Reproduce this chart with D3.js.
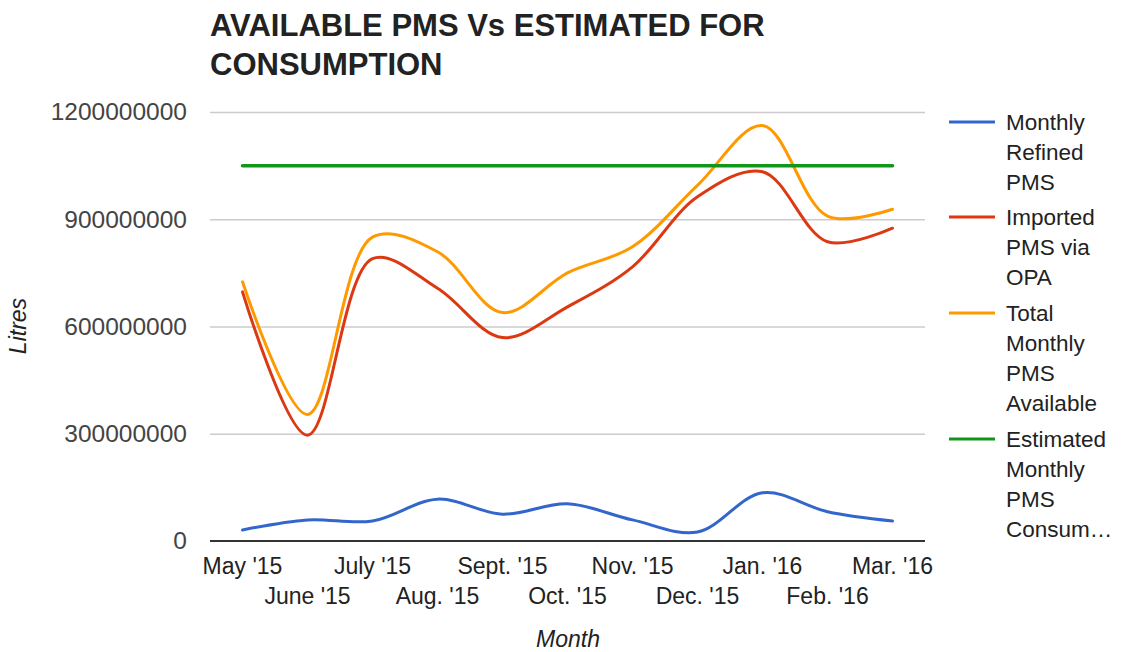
<!DOCTYPE html>
<html>
<head>
<meta charset="utf-8">
<script src="https://cdn.jsdelivr.net/npm/d3@7"></script>
<style>
  html, body { margin: 0; padding: 0; background: #fff; }
  svg { display: block; font-family: "Liberation Sans", Arial, sans-serif; }
</style>
</head>
<body>
<div id="chart"></div>
<script>
// data (litres)
var months = ["May '15", "June '15", "July '15", "Aug. '15", "Sept. '15", "Oct. '15",
              "Nov. '15", "Dec. '15", "Jan. '16", "Feb. '16", "Mar. '16"];
var refined   = [31000000, 59000000, 56000000, 117000000, 75000000, 104000000,
                 59000000, 25000000, 135000000, 82000000, 56000000];
var imported  = [697000000, 296000000, 790000000, 707000000, 569000000, 655000000,
                 767000000, 963000000, 1033000000, 837000000, 875000000];
var total     = [725000000, 354000000, 850000000, 809000000, 639000000, 750000000,
                 823000000, 995000000, 1162000000, 909000000, 928000000];
var estimated = [1050000000, 1050000000, 1050000000, 1050000000, 1050000000, 1050000000,
                 1050000000, 1050000000, 1050000000, 1050000000, 1050000000];
var yTicks = [0, 300000000, 600000000, 900000000, 1200000000];
var seriesNames = [
  ["Monthly", "Refined", "PMS"],
  ["Imported", "PMS via", "OPA"],
  ["Total", "Monthly", "PMS", "Available"],
  ["Estimated", "Monthly", "PMS", "Consum\u2026"]
];
var colors = ["#3366cc", "#dc3912", "#ff9900", "#109618"];

var W = 1122, H = 652;
var svg = d3.select("#chart").append("svg").attr("width", W).attr("height", H);

var x = d3.scaleBand().domain(months).range([210, 925]);
var y = d3.scaleLinear().domain([0, 1200000000]).range([541, 112]);
function px(i) { return x(months[i]) + x.bandwidth() / 2; }

// title
svg.append("text").attr("x", 210).attr("y", 36)
  .attr("font-size", 31).attr("font-weight", "bold").attr("fill", "#222")
  .text("AVAILABLE PMS Vs ESTIMATED FOR");
svg.append("text").attr("x", 210).attr("y", 75)
  .attr("font-size", 31).attr("font-weight", "bold").attr("fill", "#222")
  .text("CONSUMPTION");

// gridlines
var grid = svg.append("g").attr("transform", "translate(210,0)")
  .call(d3.axisLeft(y).tickValues(yTicks.slice(1)).tickSize(-715).tickFormat(""));
grid.select(".domain").remove();
grid.selectAll("line").attr("stroke", "#cccccc").attr("stroke-width", 1.5);

// y labels
var yAx = svg.append("g").attr("transform", "translate(210,0)")
  .call(d3.axisLeft(y).tickValues(yTicks).tickSize(0).tickPadding(23).tickFormat(d3.format("d")));
yAx.select(".domain").remove();
yAx.selectAll("text").attr("font-size", 24.5).attr("fill", "#444")
  .attr("font-family", "Liberation Sans, Arial, sans-serif");

// x labels, staggered
var xAx = svg.append("g").attr("transform", "translate(0,541)")
  .call(d3.axisBottom(x).tickSize(0).tickPadding(17));
xAx.select(".domain").remove();
xAx.selectAll("text").attr("font-size", 23).attr("fill", "#222")
  .attr("font-family", "Liberation Sans, Arial, sans-serif")
  .attr("y", function(d, i) { return i % 2 ? 47 : 17; });

// baseline
svg.append("line").attr("x1", 210).attr("x2", 925).attr("y1", y(0)).attr("y2", y(0))
  .attr("stroke", "#333").attr("stroke-width", 2);

// lines
var line = d3.line()
  .x(function(d, i) { return px(i); })
  .y(function(d) { return y(d); })
  .curve(d3.curveCatmullRom.alpha(0.5));

[refined, imported, total, estimated].forEach(function(s, k) {
  svg.append("path").datum(s)
    .attr("d", line)
    .attr("fill", "none")
    .attr("stroke", colors[k])
    .attr("stroke-width", k === 3 ? 3.5 : 3)
    .attr("stroke-linejoin", "round")
    .attr("stroke-linecap", "round");
});

// axis titles
svg.append("text").attr("transform", "translate(26,326) rotate(-90)")
  .attr("text-anchor", "middle").attr("font-size", 23).attr("font-style", "italic")
  .attr("fill", "#222").text("Litres");
svg.append("text").attr("x", 568).attr("y", 647)
  .attr("text-anchor", "middle").attr("font-size", 23).attr("font-style", "italic")
  .attr("fill", "#222").text("Month");

// legend
var legendTop = [122, 217, 313, 439];
var legend = svg.append("g");
seriesNames.forEach(function(lines, k) {
  var g = legend.append("g").attr("transform", "translate(0," + legendTop[k] + ")");
  g.append("line").attr("x1", 949).attr("x2", 995).attr("y1", 0).attr("y2", 0)
    .attr("stroke", colors[k]).attr("stroke-width", 3);
  lines.forEach(function(t, j) {
    g.append("text").attr("x", 1006).attr("y", j * 30).attr("dy", "0.36em")
      .attr("font-size", 22.5).attr("fill", "#222").text(t);
  });
});
</script>
</body>
</html>
